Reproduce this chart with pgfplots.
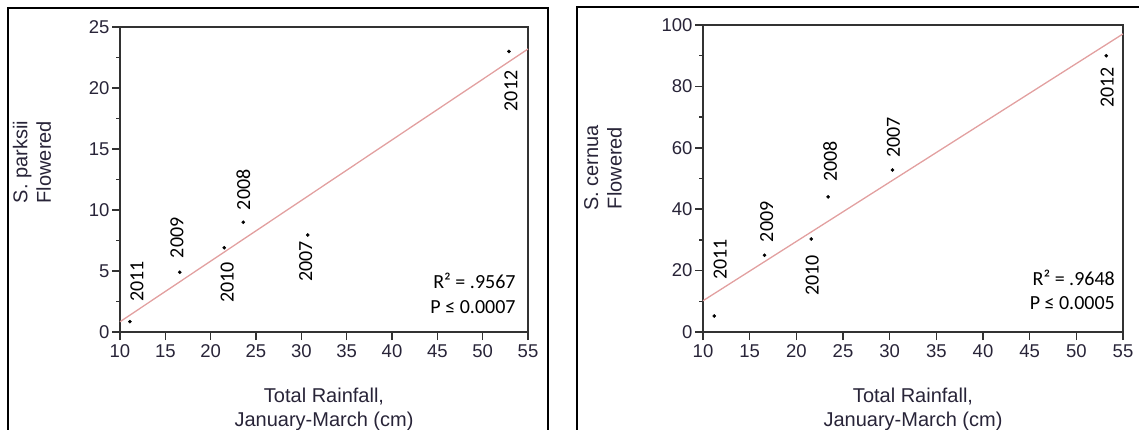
\documentclass[border=0pt]{standalone}
\usepackage{pgfplots}
\pgfplotsset{compat=1.18}
\usepackage{fontspec}
\setmainfont{Liberation Sans}
\newfontfamily\carlito{Carlito}
\definecolor{axgray}{RGB}{50,50,50}
\definecolor{ticktext}{RGB}{40,36,56}
\definecolor{rline}{RGB}{226,160,160}
\pgfplotsset{
  myax/.style={
    scale only axis, anchor=south west, clip=false,
    axis line style={axgray, line width=1.5pt},
    every tick/.style={axgray, line width=1.5pt},
    tick align=outside, tick pos=left,
    major tick length=8pt, minor tick length=4pt,
    minor y tick num=1,
    xmin=10, xmax=55, xtick={10,15,...,55},
    /pgf/number format/assume math mode=true,
    tick label style={font=\fontsize{18.5}{22}\selectfont, text=ticktext},
    yticklabel style={xshift=1pt},
    xticklabel style={yshift=-1pt},
    label style={font=\fontsize{20}{23.5}\selectfont, text=ticktext, align=center},
    xlabel style={at={(axis description cs:0.5,0)}, anchor=north, yshift=-56pt, inner sep=0pt},
  },
}
\tikzset{
  yr/.style={font=\carlito\fontsize{20}{24}\selectfont, rotate=90, inner sep=0pt},
  stat/.style={font=\carlito\fontsize{20}{24}\selectfont, anchor=base east, inner sep=0pt},
}
\begin{document}
\begin{tikzpicture}
\useasboundingbox (0,0) rectangle (1139pt,429pt);
\clip (0,0) rectangle (1139pt,429pt);
\draw[line width=2pt] (8pt,-20pt) rectangle (548pt,421pt);
\draw[line width=2pt] (577pt,-20pt) rectangle (1170pt,422pt);

\begin{axis}[myax, at={(120pt,97pt)}, width=408pt, height=305pt,
  ymin=0, ymax=25, ytick={0,5,...,25},
  xlabel={Total Rainfall,\\January-March (cm)},
  ylabel={S. parksii\\Flowered},
  ylabel style={at={(axis description cs:-0.216,0.557)}, anchor=center},
]
\addplot[color=rline, line width=1.3pt] coordinates {(10,0.84) (55,23.2)};
\addplot[only marks, mark=*, mark size=1.6pt, black] coordinates {
(11.1,0.85) (16.6,4.9) (21.5,6.9) (23.6,9.0) (30.7,7.95) (52.9,23.0)};
\node[yr, anchor=west] at ([xshift=7pt,yshift=20pt]axis cs:11.1,0.85) {2011};
\node[yr, anchor=west] at ([xshift=-3pt,yshift=14pt]axis cs:16.6,4.9) {2009};
\node[yr, anchor=east] at ([xshift=3pt,yshift=-14pt]axis cs:21.5,6.9) {2010};
\node[yr, anchor=west] at ([xshift=0pt,yshift=12pt]axis cs:23.6,9.0) {2008};
\node[yr, anchor=east] at ([xshift=-2pt,yshift=-6pt]axis cs:30.7,7.95) {2007};
\node[yr, anchor=east] at ([xshift=2pt,yshift=-19pt]axis cs:52.9,23.0) {2012};
\node[stat] at (axis description cs:0.97,0.144) {R² = .9567};
\node[stat] at (axis description cs:0.97,0.062) {P ≤ 0.0007};
\end{axis}

\begin{axis}[myax, at={(703pt,97pt)}, width=420pt, height=307pt,
  ymin=0, ymax=100, ytick={0,20,...,100},
  xlabel={Total Rainfall,\\January-March (cm)},
  ylabel={S. cernua\\Flowered},
  ylabel style={at={(axis description cs:-0.238,0.534)}, anchor=center},
]
\addplot[color=rline, line width=1.3pt] coordinates {(10,10.18) (55,97.1)};
\addplot[only marks, mark=*, mark size=1.6pt, black] coordinates {
(11.2,5.2) (16.6,25) (21.6,30.3) (23.4,44) (30.3,52.8) (53.2,90)};
\node[yr, anchor=west] at ([xshift=6pt,yshift=36pt]axis cs:11.2,5.2) {2011};
\node[yr, anchor=west] at ([xshift=2pt,yshift=13pt]axis cs:16.6,25) {2009};
\node[yr, anchor=east] at ([xshift=1pt,yshift=-16pt]axis cs:21.6,30.3) {2010};
\node[yr, anchor=west] at ([xshift=2pt,yshift=15pt]axis cs:23.4,44) {2008};
\node[yr, anchor=west] at ([xshift=1pt,yshift=12pt]axis cs:30.3,52.8) {2007};
\node[yr, anchor=east] at ([xshift=1pt,yshift=-11pt]axis cs:53.2,90) {2012};
\node[stat] at (axis description cs:0.981,0.153) {R² = .9648};
\node[stat] at (axis description cs:0.981,0.072) {P ≤ 0.0005};
\end{axis}
\end{tikzpicture}
\end{document}
